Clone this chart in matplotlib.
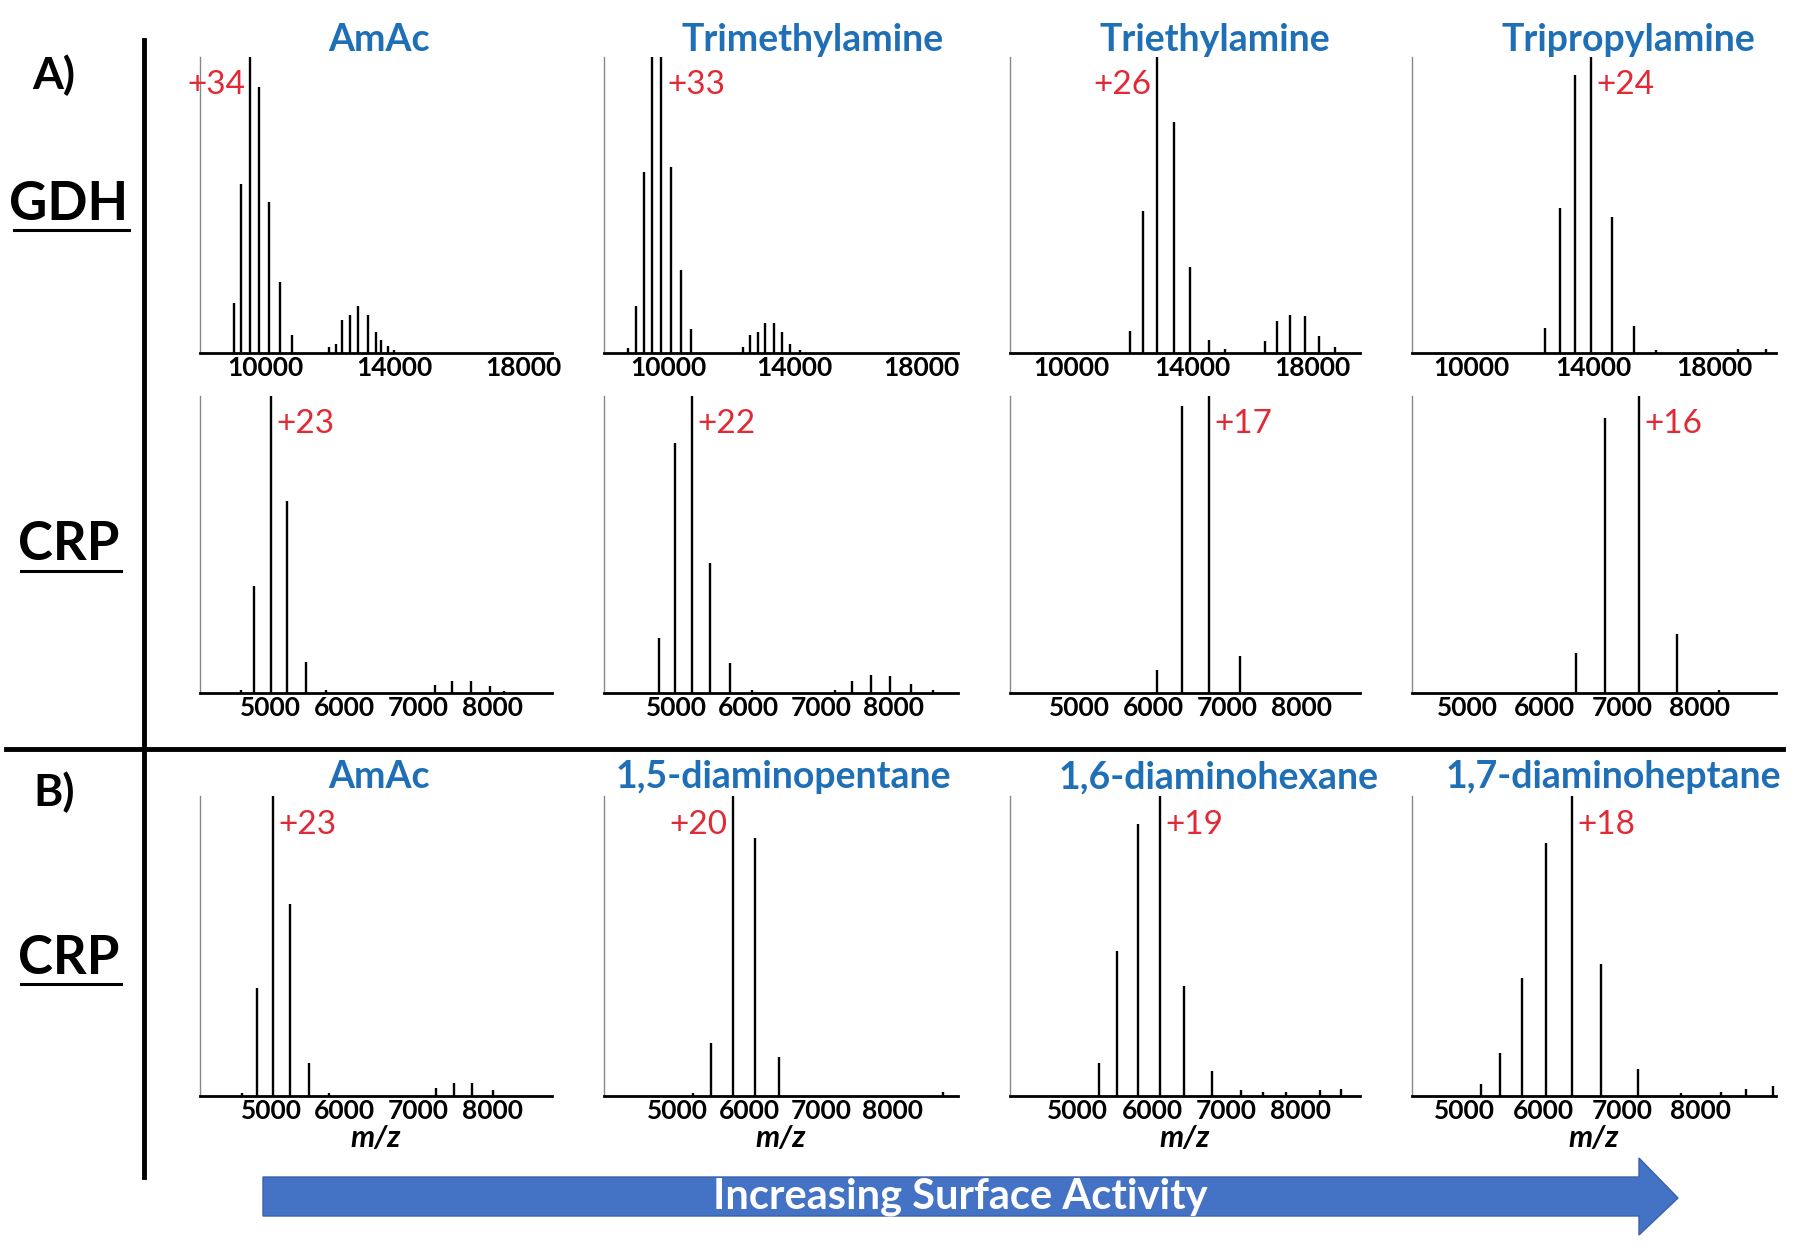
import matplotlib
matplotlib.use("Agg")
import matplotlib.pyplot as plt
from matplotlib.lines import Line2D
from matplotlib.patches import Polygon

plt.rcParams["font.family"] = ["Lato", "DejaVu Sans"]

W, H = 1800, 1250

# ---- data (m/z, relative intensity) ----
gdh_titles = ["AmAc", "Trimethylamine", "Triethylamine", "Tripropylamine"]
crp_b_titles = ["AmAc", "1,5-diaminopentane", "1,6-diaminohexane", "1,7-diaminoheptane"]

gdh_amac_mz = [9030, 9260, 9540, 9815, 10120, 10450, 10840, 11970, 12180, 12380, 12630,
               12880, 13190, 13440, 13590, 13800, 14000]
gdh_amac_int = [0.17, 0.57, 1.0, 0.90, 0.51, 0.24, 0.06, 0.02, 0.03, 0.11, 0.13,
                0.16, 0.13, 0.07, 0.045, 0.023, 0.011]
gdh_tma_mz = [8740, 8980, 9240, 9510, 9790, 10085, 10400, 10740, 12370, 12580, 12840,
              13070, 13330, 13600, 13860, 14160]
gdh_tma_int = [0.017, 0.16, 0.61, 1.0, 1.0, 0.63, 0.28, 0.08, 0.02, 0.06, 0.07,
               0.10, 0.10, 0.07, 0.03, 0.01]
gdh_tea_mz = [11950, 12375, 12850, 13390, 13950, 14580, 15090, 16440, 16830, 17260,
              17750, 18220, 18760]
gdh_tea_int = [0.073, 0.48, 1.0, 0.78, 0.29, 0.045, 0.015, 0.04, 0.107, 0.13,
               0.124, 0.056, 0.02]
gdh_tpa_mz = [12410, 12900, 13400, 13925, 14630, 15340, 16060, 18760, 19680]
gdh_tpa_int = [0.084, 0.49, 0.94, 1.0, 0.46, 0.09, 0.01, 0.015, 0.012]

crp_amac_mz = [4600, 4776, 5004, 5224, 5475, 5753, 7220, 7456, 7708, 7973, 8155]
crp_amac_int = [0.01, 0.36, 1.0, 0.645, 0.103, 0.01, 0.028, 0.039, 0.039, 0.022, 0.006]
crp_tma_mz = [4771, 4990, 5219, 5470, 5740, 6050, 7192, 7419, 7680, 7945, 8233, 8538]
crp_tma_int = [0.185, 0.842, 1.0, 0.438, 0.101, 0.01, 0.01, 0.039, 0.062, 0.058, 0.031, 0.01]
crp_tea_mz = [6054, 6392, 6757, 7176]
crp_tea_int = [0.079, 0.965, 1.0, 0.123]
crp_tpa_mz = [6409, 6787, 7219, 7714, 8260]
crp_tpa_int = [0.135, 0.926, 1.0, 0.20, 0.01]

crpb_amac_mz = [4600, 4810, 5019, 5251, 5510, 5780, 7236, 7479, 7730, 8011]
crpb_amac_int = [0.01, 0.36, 1.0, 0.64, 0.11, 0.01, 0.026, 0.042, 0.042, 0.02]
crpb_dap_mz = [5228, 5475, 5774, 6078, 6417, 8700]
crpb_dap_int = [0.01, 0.176, 1.0, 0.86, 0.13, 0.015]
crpb_dah_mz = [5278, 5527, 5806, 6099, 6427, 6805, 7200, 7500, 7800, 8260, 8550]
crpb_dah_int = [0.11, 0.483, 0.906, 1.0, 0.367, 0.083, 0.02, 0.015, 0.015, 0.02, 0.025]
crpb_dahp_mz = [5205, 5449, 5728, 6041, 6368, 6736, 7209, 7750, 8264, 8577, 8923]
crpb_dahp_int = [0.04, 0.145, 0.395, 0.845, 1.0, 0.44, 0.089, 0.01, 0.015, 0.025, 0.035]

gdh_ticks = [10000, 14000, 18000]
crp_ticks = [5000, 6000, 7000, 8000]

# charge-state label: text, peak m/z it sits beside, side of the peak
gdh_charge = [("+34", 9540, "left"), ("+33", 9790, "right"),
              ("+26", 12850, "left"), ("+24", 13925, "right")]
crp_charge = [("+23", 5004, "right"), ("+22", 5219, "right"),
              ("+17", 6757, "right"), ("+16", 7219, "right")]
crpb_charge = [("+23", 5019, "right"), ("+20", 5774, "left"),
               ("+19", 6099, "right"), ("+18", 6368, "right")]

rows = [
    dict(spectra=[(gdh_amac_mz, gdh_amac_int), (gdh_tma_mz, gdh_tma_int),
                  (gdh_tea_mz, gdh_tea_int), (gdh_tpa_mz, gdh_tpa_int)],
         xlims=[(7960, 18890), (7980, 19150), (7960, 19580), (8030, 20020)],
         ticks=gdh_ticks, charge=gdh_charge, px=(57, 353)),
    dict(spectra=[(crp_amac_mz, crp_amac_int), (crp_tma_mz, crp_tma_int),
                  (crp_tea_mz, crp_tea_int), (crp_tpa_mz, crp_tpa_int)],
         xlims=[(4040, 8810), (4008, 8881), (4068, 8794), (4289, 8991)],
         ticks=crp_ticks, charge=crp_charge, px=(396, 693)),
    dict(spectra=[(crpb_amac_mz, crpb_amac_int), (crpb_dap_mz, crpb_dap_int),
                  (crpb_dah_mz, crpb_dah_int), (crpb_dahp_mz, crpb_dahp_int)],
         xlims=[(4025, 8813), (3986, 8903), (4085, 8800), (4330, 8963)],
         ticks=crp_ticks, charge=crpb_charge, px=(796, 1096)),
]
cols_px = [(199.5, 552), (604, 958), (1010, 1360), (1412, 1776)]

TITLE_BLUE = "#1f6fb6"
RED = "#e02a35"


def fx(x):
    return x / W


def fy(y):
    return 1 - y / H


fig = plt.figure(figsize=(18, 12.5), dpi=100)

for ri, row in enumerate(rows):
    top, base = row["px"]
    for ci, (left, right) in enumerate(cols_px):
        ax = fig.add_axes([fx(left), fy(base), (right - left) / W, (base - top) / H])
        mz, inten = row["spectra"][ci]
        ax.vlines(mz, 0, inten, color="black", lw=1.7)
        ax.set_xlim(*row["xlims"][ci])
        ax.set_ylim(0, 1.0)
        ax.set_yticks([])
        ax.set_xticks(row["ticks"])
        ax.set_xticklabels([str(t) for t in row["ticks"]], fontsize=19, fontweight="bold")
        ax.tick_params(axis="x", length=0, pad=2)
        for s in ("top", "right"):
            ax.spines[s].set_visible(False)
        ax.spines["left"].set_color("#888888")
        ax.spines["left"].set_linewidth(1.0)
        ax.spines["bottom"].set_color("black")
        ax.spines["bottom"].set_linewidth(2.0)
        ax.patch.set_alpha(0)

        txt, pk, side = row["charge"][ci]
        off = -4 if side == "left" else 4
        ax.annotate(txt, xy=(pk, 0.905), xycoords=("data", "axes fraction"),
                    xytext=(off, 0), textcoords="offset points",
                    ha="right" if side == "left" else "left", va="center",
                    fontsize=24, color=RED)
        if ri == 2:
            ax.set_xlabel("m/z", fontsize=22, fontstyle="italic", fontweight="bold",
                          labelpad=1)

# compound titles
for name, x in zip(gdh_titles, [379, 813, 1215, 1628]):
    fig.text(fx(x), fy(40), name, ha="center", va="center", fontsize=27,
             fontweight="bold", color=TITLE_BLUE)
for name, x in zip(crp_b_titles, [379, 783, 1219, 1613]):
    fig.text(fx(x), fy(777), name, ha="center", va="center", fontsize=27,
             fontweight="bold", color=TITLE_BLUE)

# row / section labels
fig.text(fx(54), fy(75), "A)", ha="center", va="center", fontsize=32, fontweight="bold")
fig.text(fx(54), fy(792), "B)", ha="center", va="center", fontsize=32, fontweight="bold")
for lab, y, (u0, u1, uy) in [("GDH", 204, (14, 129, 230)),
                             ("CRP", 545, (21, 121, 571)),
                             ("CRP", 959, (21, 121, 984))]:
    fig.text(fx(69), fy(y), lab, ha="center", va="center", fontsize=38, fontweight="bold")
    fig.add_artist(Line2D([fx(u0), fx(u1)], [fy(uy), fy(uy)], color="black", lw=2.2,
                          transform=fig.transFigure))

# divider lines
fig.add_artist(Line2D([fx(143.5), fx(143.5)], [fy(40), fy(1177)], color="black", lw=3.5,
                      transform=fig.transFigure))
fig.add_artist(Line2D([fx(6), fx(1783)], [fy(748.5), fy(748.5)], color="black", lw=3.5,
                      transform=fig.transFigure))

# arrow
arrow_pts = [(263, 1177), (1639, 1177), (1639, 1158), (1678, 1198), (1639, 1235),
             (1639, 1216), (263, 1216)]
fig.add_artist(Polygon([(fx(x), fy(y)) for x, y in arrow_pts], closed=True,
                       facecolor="#4472c4", edgecolor="#3a62a8", lw=1.0,
                       transform=fig.transFigure))
fig.text(fx(960), fy(1197), "Increasing Surface Activity", ha="center", va="center",
         fontsize=30, fontweight="bold", color="white")

fig.savefig("out.png", dpi=100, facecolor="white")
